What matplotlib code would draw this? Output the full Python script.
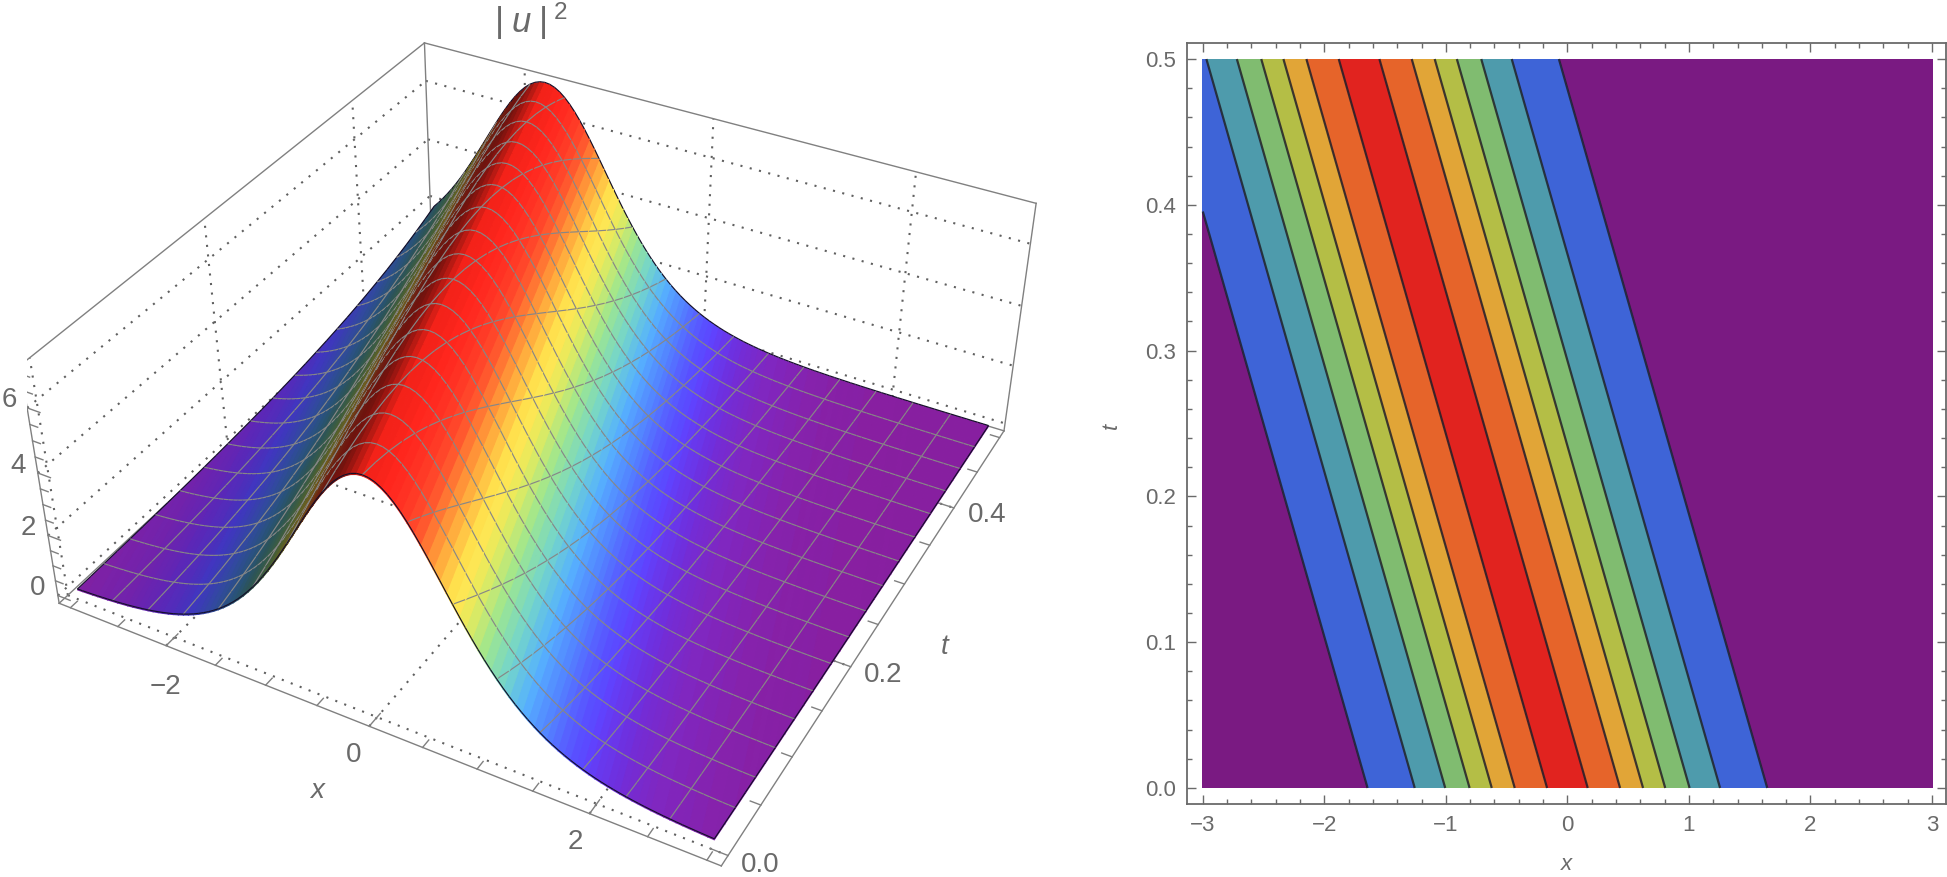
import numpy as np
import matplotlib
matplotlib.use("Agg")
import matplotlib.pyplot as plt
from matplotlib.colors import LinearSegmentedColormap
from matplotlib.ticker import MultipleLocator, FormatStrFormatter
from mpl_toolkits.mplot3d.art3d import Poly3DCollection

plt.rcParams["font.family"] = ["Liberation Sans", "DejaVu Sans"]
plt.rcParams["mathtext.fontset"] = "custom"
plt.rcParams["mathtext.rm"] = "Liberation Sans"
plt.rcParams["mathtext.it"] = "Liberation Sans:italic"

W, H = 1947, 877
GRAY = "#6a6a6a"

profile = [
    0.071, 0.079, 0.088, 0.098, 0.109, 0.121, 0.135, 0.150, 0.166, 0.185, 0.205, 0.228, 0.254, 0.282,
    0.313, 0.347, 0.386, 0.428, 0.475, 0.526, 0.584, 0.647, 0.716, 0.792, 0.876, 0.969, 1.070, 1.180,
    1.301, 1.433, 1.576, 1.732, 1.900, 2.081, 2.276, 2.484, 2.706, 2.942, 3.191, 3.452, 3.724, 4.006,
    4.295, 4.590, 4.887, 5.182, 5.473, 5.755, 6.024, 6.275, 6.505, 6.707, 6.879, 7.017, 7.118, 7.179,
    7.200,
    7.179, 7.118, 7.017, 6.879, 6.707, 6.505, 6.275, 6.024, 5.755, 5.473, 5.182, 4.887, 4.590, 4.295,
    4.006, 3.724, 3.452, 3.191, 2.942, 2.706, 2.484, 2.276, 2.081, 1.900, 1.732, 1.576, 1.433, 1.301,
    1.180, 1.070, 0.969, 0.876, 0.792, 0.716, 0.647, 0.584, 0.526, 0.475, 0.428, 0.386, 0.347, 0.313,
    0.282, 0.254, 0.228, 0.205, 0.185, 0.166, 0.150, 0.135, 0.121, 0.109, 0.098, 0.088, 0.079, 0.071,
    0.064, 0.057, 0.052, 0.046, 0.042, 0.037, 0.034, 0.030, 0.027, 0.024, 0.022, 0.020, 0.018, 0.016,
    0.014, 0.013, 0.012, 0.010, 0.009, 0.008, 0.008, 0.007, 0.006, 0.005, 0.005, 0.004, 0.004, 0.004,
    0.003, 0.003, 0.003, 0.002,
]

x_values = np.linspace(-3, 3, 113)
t_values = np.linspace(0, 0.5, 33)
contour_levels = [1, 2, 3, 4, 5, 6, 7]
band_colors = ["#7a1a82", "#3e64d7", "#4e9bac", "#80bc70", "#b4be46", "#e1a537", "#e6642a", "#e1231f"]
surface_stops = [(0, "#871fa0"), (0.35, "#6b2bd0"), (0.7, "#5548ff"), (1.2, "#4f7dff"), (1.7, "#52aaf0"),
                 (2.3, "#6fcbc0"), (3.0, "#97db88"), (3.7, "#d8e05a"), (4.4, "#ffd84a"), (5.2, "#ff9a38"),
                 (6.0, "#ff4a2a"), (6.7, "#ff2a20"), (7.2, "#e82018")]

# box of the 3D panel
XLO, XHI, TLO, THI, ZLO, ZHI = -3.12, 3.12, -0.01, 0.51, -0.262, 7.263
BOX = (2.505, 2.4821, 1.0)

# the wave moves one column per row
z_grid = np.array([[profile[i + j] for j in range(len(x_values))] for i in range(len(t_values))])

fig = plt.figure(figsize=(W / 100, H / 100), dpi=100)


def px_text(x, y, s, size=20, **kw):
    fig.text(x / W, 1 - y / H, s, ha="center", va="center", color=GRAY, fontsize=size, **kw)


ax = fig.add_axes([0.01367, -0.05796, 0.52706, 1.17010], projection="3d", computed_zorder=False)
ax.set_box_aspect(BOX)
ax.view_init(elev=36.292, azim=-61.413, roll=0)
ax.set_proj_type("persp", focal_length=0.4258)
ax.set_xlim(XLO, XHI)
ax.set_ylim(TLO, THI)
ax.set_zlim(ZLO, ZHI)
ax.set_axis_off()
ax.patch.set_alpha(0)


def line3(xs, ts, zs, dotted=False, lw=1.0):
    if dotted:
        ax.plot(xs, ts, zs, color="#606060", lw=1.5, ls=(0, (1.0, 3.6)), zorder=1)
    else:
        ax.plot(xs, ts, zs, color="#808080", lw=lw, zorder=1.5)


# walls: floor, left, back
for x0, t0, z0, x1, t1, z1 in [(XLO, TLO, ZLO, XHI, TLO, ZLO), (XHI, TLO, ZLO, XHI, THI, ZLO),
                               (XHI, THI, ZLO, XLO, THI, ZLO), (XLO, THI, ZLO, XLO, TLO, ZLO),
                               (XLO, TLO, ZLO, XLO, TLO, ZHI), (XLO, THI, ZLO, XLO, THI, ZHI),
                               (XHI, THI, ZLO, XHI, THI, ZHI), (XLO, TLO, ZHI, XLO, THI, ZHI),
                               (XLO, THI, ZHI, XHI, THI, ZHI)]:
    line3([x0, x1], [t0, t1], [z0, z1])

for z in [0, 2, 4, 6]:
    line3([XLO, XLO], [TLO, THI], [z, z], dotted=True)
    line3([XLO, XHI], [THI, THI], [z, z], dotted=True)
for x in [-2, 0, 2]:
    line3([x, x], [TLO, THI], [ZLO, ZLO], dotted=True)
    line3([x, x], [THI, THI], [ZLO, ZHI], dotted=True)
for t in [0, 0.2, 0.4]:
    line3([XLO, XHI], [t, t], [ZLO, ZLO], dotted=True)
    line3([XLO, XLO], [t, t], [ZLO, ZHI], dotted=True)

# ticks
for x in np.arange(-3, 3.01, 0.5):
    d = 0.014 if x in (-2, 0, 2) else 0.008
    line3([x, x], [TLO, TLO + d], [ZLO, ZLO])
for t in np.arange(0, 0.501, 0.05):
    d = 0.15 if round(t, 2) in (0, 0.2, 0.4) else 0.09
    line3([XHI, XHI - d], [t, t], [ZLO, ZLO])
for z in np.arange(0, 7.01, 0.5):
    d = 0.13 if z in (0, 2, 4, 6) else 0.08
    line3([XLO, XLO + d], [TLO, TLO], [z, z])

# surface, cut in triangles along the ridge so that colour bands stay straight
cmap = LinearSegmentedColormap.from_list("surface", [(z / 7.2, c) for z, c in surface_stops])
scale = np.array([BOX[0] / (XHI - XLO), BOX[1] / (THI - TLO), BOX[2] / (ZHI - ZLO)])
light = np.array([0.65, 0.0, 0.76])
nt, nx = z_grid.shape
X, T = np.meshgrid(x_values, t_values)
P = np.dstack([X, T, z_grid])
verts, faces, edges = [], [], []
for i in range(nt - 1):
    for j in range(nx - 1):
        for tri in ((P[i, j], P[i, j + 1], P[i + 1, j]), (P[i + 1, j + 1], P[i + 1, j], P[i, j + 1])):
            a, b, c = tri
            n = np.cross((b - a) * scale, (c - a) * scale)
            n = n / np.linalg.norm(n)
            if n[2] < 0:
                n = -n
            f = np.clip(0.43 + 0.75 * max(n @ light, 0), 0, 1.05)
            zs = (a[2], b[2], c[2])
            rgb = np.clip(np.array(cmap((min(zs) + max(zs)) / (2 * 7.2))[:3]) * f, 0, 1)
            verts.append(np.array(tri))
            faces.append((*rgb, 1))
            edges.append((*rgb, 1))

lift = np.array([0, 0, 0.03])
mesh_rgba = (0.53, 0.53, 0.53, 1)
edge_rgba = (0.08, 0.06, 0.16, 1)


def add_segments(points, rgba):
    for p0, p1 in zip(points[:-1], points[1:]):
        verts.append(np.array([p0 + lift, p1 + lift]))
        faces.append((0, 0, 0, 0))
        edges.append(rgba)


for i in range(2, nt - 1, 2):
    add_segments(P[i, :], mesh_rgba)
for j in range(7, nx - 1, 7):
    add_segments(P[:, j], mesh_rgba)
add_segments(P[0, :], edge_rgba)
add_segments(P[-1, :], edge_rgba)
add_segments(P[:, 0], edge_rgba)
add_segments(P[:, -1], edge_rgba)

poly = Poly3DCollection(verts, zsort="max", linewidths=0.85, zorder=2)
poly.set_facecolor(np.array(faces))
poly.set_edgecolor(np.array(edges))
ax.add_collection3d(poly)

# labels of the 3D panel
for s, x, y in [("6", 9, 400), ("4", 18, 466), ("2", 28, 528), ("0", 38, 588),
                ("\u22122", 165, 687), ("0", 354, 755), ("2", 575, 842),
                ("0.0", 760, 865), ("0.2", 883, 675), ("0.4", 987, 515)]:
    px_text(x, y, s)
px_text(317, 791, "x", size=20, style="italic")
px_text(945, 647, "t", size=20, style="italic")
px_text(531, 21, r"$|\;u\;|^{\;2}$", size=25)

# contour panel
ax2 = fig.add_axes([1187 / W, 1 - 804 / H, 759 / W, 761 / H])
levels = [-1] + contour_levels + [9]
ax2.contourf(x_values, t_values, z_grid, levels=levels, colors=band_colors)
ax2.contour(x_values, t_values, z_grid, levels=contour_levels, colors="#20202a", linewidths=1.6, alpha=0.85)
ax2.set_xlim(-3.13, 3.115)
ax2.set_ylim(-0.011, 0.511)
ax2.xaxis.set_major_locator(MultipleLocator(1))
ax2.xaxis.set_minor_locator(MultipleLocator(0.2))
ax2.yaxis.set_major_locator(MultipleLocator(0.1))
ax2.yaxis.set_minor_locator(MultipleLocator(0.02))
ax2.yaxis.set_major_formatter(FormatStrFormatter("%.1f"))
ax2.tick_params(which="major", direction="in", length=6.5, width=1.0, color=GRAY, top=True, right=True,
                labelsize=16, labelcolor=GRAY, pad=8)
ax2.tick_params(which="minor", direction="in", length=3.6, width=1.0, color=GRAY, top=True, right=True)
for side in ax2.spines.values():
    side.set_color(GRAY)
    side.set_linewidth(1.3)
ax2.set_xlabel("x", style="italic", fontsize=16, color=GRAY, va="center")
ax2.set_ylabel("t", style="italic", fontsize=16, color=GRAY, va="center")
ax2.xaxis.set_label_coords(0.4995, -0.08)
ax2.yaxis.set_label_coords(-0.1, 0.497)

fig.savefig("out.png", dpi=100)
